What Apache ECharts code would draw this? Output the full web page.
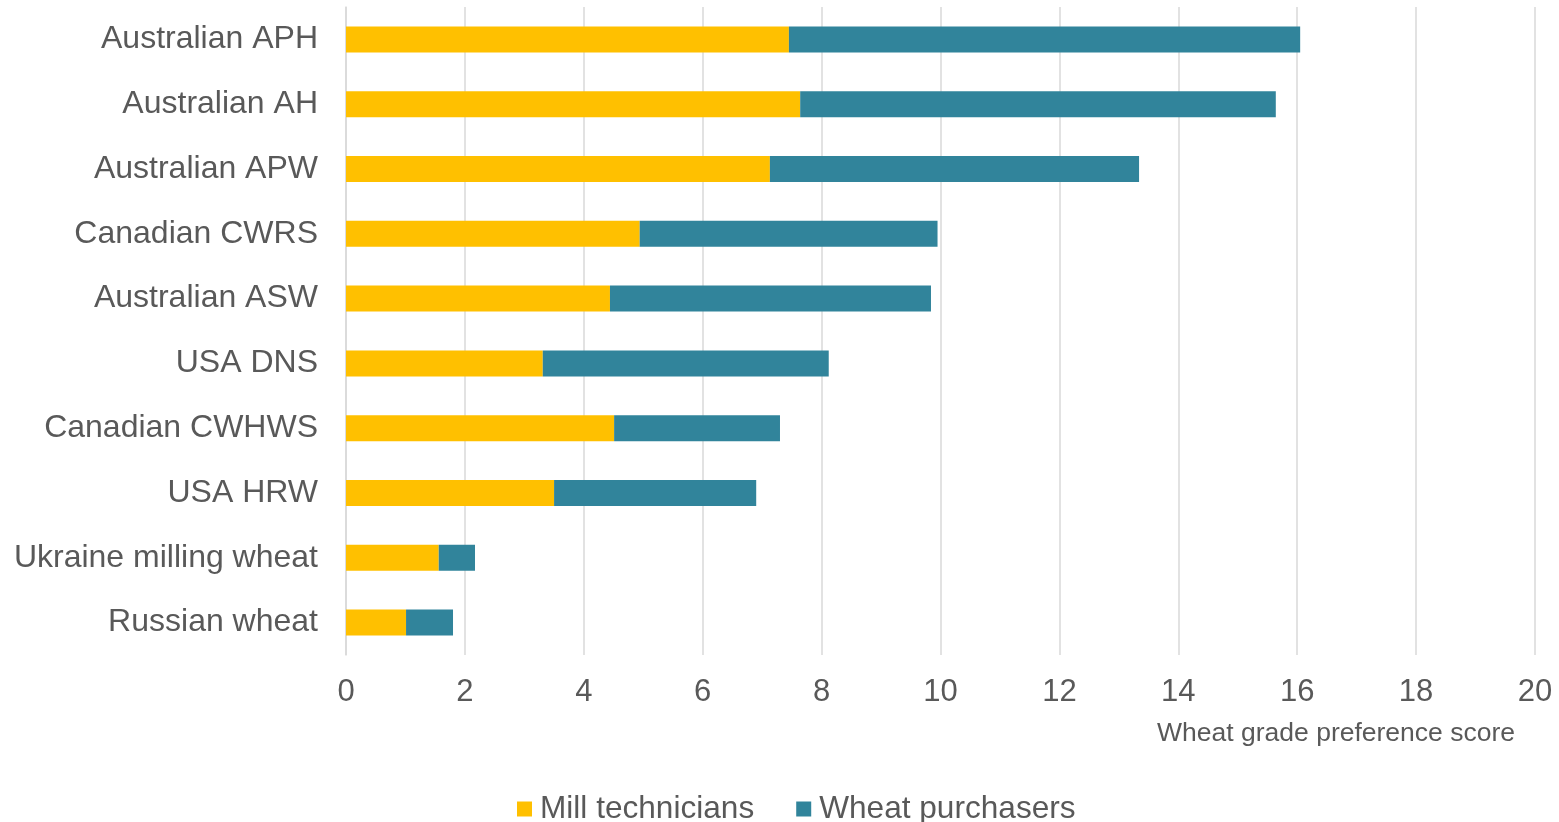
<!DOCTYPE html>
<html>
<head>
<meta charset="utf-8">
<script src="https://cdn.jsdelivr.net/npm/echarts@6/dist/echarts.min.js"></script>
<style>html,body{margin:0;padding:0;background:#fff;}#c{width:1559px;height:822px;}</style>
</head>
<body>
<div id="c"></div>
<script>
const categories = ["Australian APH","Australian AH","Australian APW","Canadian CWRS","Australian ASW","USA DNS","Canadian CWHWS","USA HRW","Ukraine milling wheat","Russian wheat"];
const millTechnicians = [7.45, 7.64, 7.13, 4.94, 4.44, 3.31, 4.51, 3.50, 1.56, 1.01];
const wheatPurchasers = [8.60, 8.00, 6.21, 5.01, 5.40, 4.81, 2.79, 3.40, 0.61, 0.79];
const axisTitle = "Wheat grade preference score";

const chart = echarts.init(document.getElementById('c'));
const font = 'Liberation Sans, Arial, sans-serif';
chart.setOption({
  animation: false,
  textStyle: {fontFamily: font},
  title: {
    text: axisTitle, right: 39, top: 715,
    textStyle: {fontSize: 26.5, fontWeight: 'normal', color: '#595959', fontFamily: font}
  },
  legend: {
    left: 512, top: 788, itemWidth: 15, itemHeight: 15, itemGap: 42,
    icon: 'rect',
    textStyle: {fontSize: 31.6, color: '#595959', fontFamily: font, padding: [0,0,0,3]},
    data: ['Mill technicians','Wheat purchasers']
  },
  grid: {left: 346, right: 24, top: 7, bottom: 167},
  xAxis: {
    type: 'value', min: 0, max: 20, interval: 2,
    axisLine: {show: false}, axisTick: {show: false},
    splitLine: {lineStyle: {color: '#D9D9D9', width: 1.5}},
    axisLabel: {fontSize: 31, color: '#595959', margin: 22, fontFamily: font}
  },
  yAxis: {
    type: 'category', data: categories, inverse: true,
    axisLine: {lineStyle: {color: '#D9D9D9', width: 1.5}},
    axisTick: {show: false},
    axisLabel: {fontSize: 32, color: '#595959', margin: 28, fontFamily: font}
  },
  series: [
    {name: 'Mill technicians', type: 'bar', stack: 't', data: millTechnicians, barWidth: 26,
     itemStyle: {color: '#FFC000'}},
    {name: 'Wheat purchasers', type: 'bar', stack: 't', data: wheatPurchasers, barWidth: 26,
     itemStyle: {color: '#31849B'}}
  ]
});
</script>
</body>
</html>
